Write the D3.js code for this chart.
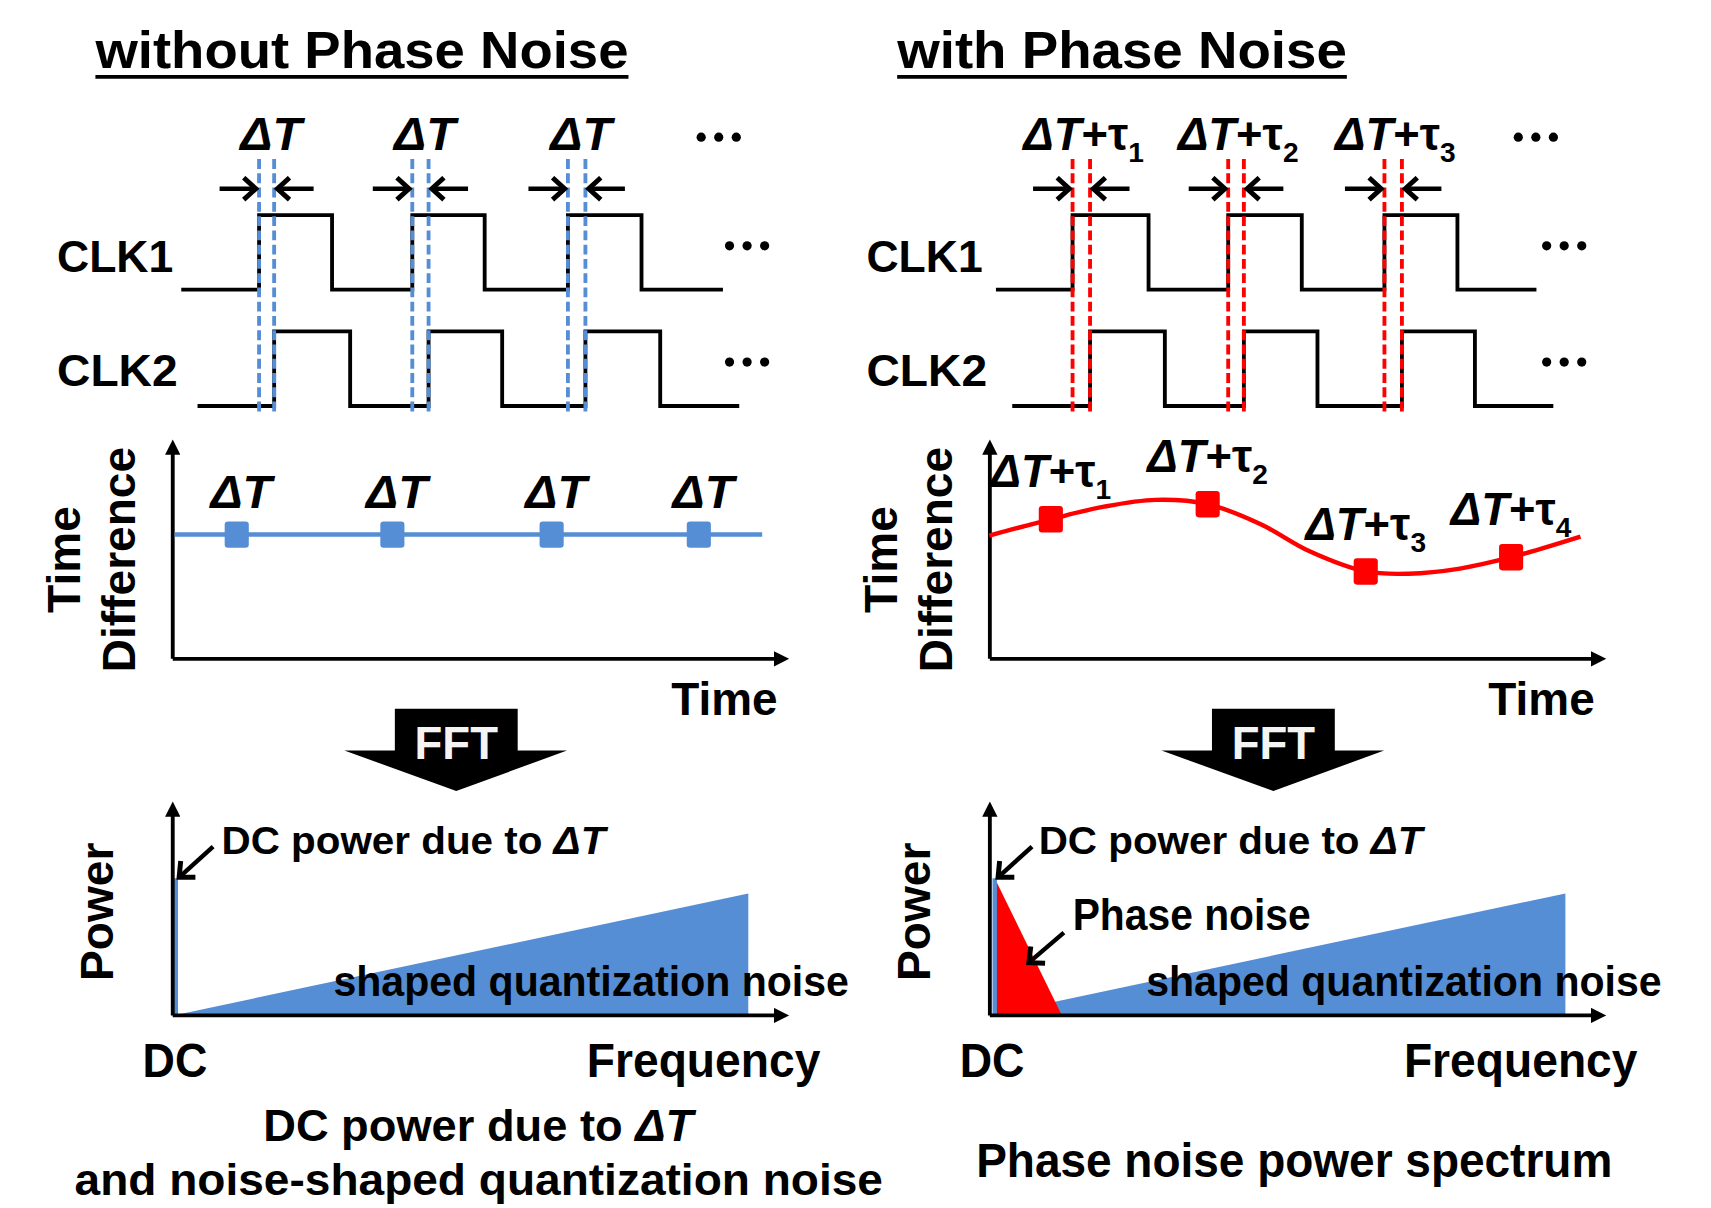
<!DOCTYPE html>
<html lang="en">
<head>
<meta charset="UTF-8" />
<title>Phase noise vs. time difference</title>
<script src="https://d3js.org/d3.v7.min.js"></script>
<style>
    html, body { margin: 0; padding: 0; background: #fff; }
    svg { display: block; }
    text {
        font-family: "Liberation Sans Narrow", "Arial Narrow", "Liberation Sans", Arial, sans-serif;
        font-weight: bold;
        fill: #000;
    }
    text.wide { font-family: "Liberation Sans", Arial, sans-serif; }
</style>
</head>
<body>
<svg id="chart" width="1711" height="1208" viewBox="0 0 1560 1101" preserveAspectRatio="none"></svg>
<script>
// ---- data, time in 0..100 units across each panel ----
const clockNames = ["CLK1", "CLK2"];
// start, rise, fall, rise, fall, rise, fall, end
const leftClk1 = [1.5, 14.4, 26.5, 39.8, 51.8, 65.6, 77.8, 91.3];
const leftClk2 = [4.2, 16.9, 29.5, 42.5, 54.7, 68.5, 80.9, 94.0];
const rightClk1 = [1.1, 13.8, 26.4, 39.6, 51.8, 65.5, 77.6, 90.7];
const rightClk2 = [3.8, 16.7, 29.1, 42.2, 54.4, 68.4, 80.5, 93.5];
const edgeSubs = ["1", "2", "3"];
const diffSubs = ["1", "2", "3", "4"];

const leftDiffT = [10.7, 36.5, 62.9, 87.3];
const leftDiffV = [60, 60, 60, 60];
const leftDiffLine = [[0.4, 60], [97.8, 60]];

const rightDiffT = [10.2, 36.2, 62.4, 86.5];
const rightDiffV = [67.4, 74.7, 42.1, 49.0];
const rightCurve = [[0, 59.5], [10.2, 67.4], [19, 73.5], [27.6, 76.8], [36.2, 74.7], [45, 65],
    [53, 52], [62.4, 42.1], [69.5, 41], [78, 43.5], [86.5, 49], [98, 59]];

const leftSpike = [0.6, 68];
const rightSpike = [0.9, 68];
const quantNoise = [[0.6, 0], [95.5, 60.5]];
const phaseNoise = [[0.9, 68], [12, 0]];

const BLUE = "#558ed5", RED = "#ff0000";

const svg = d3.select("#chart");
const defs = svg.append("defs");
defs.append("marker").attr("id", "axisHead")
    .attr("markerUnits", "userSpaceOnUse").attr("markerWidth", 16).attr("markerHeight", 14)
    .attr("refX", 2).attr("refY", 7).attr("orient", "auto")
    .append("path").attr("d", "M0,0 L14,7 L0,14 Z").attr("fill", "#000");
defs.append("marker").attr("id", "openHead")
    .attr("markerUnits", "userSpaceOnUse").attr("markerWidth", 22).attr("markerHeight", 24)
    .attr("refX", 14).attr("refY", 12).attr("orient", "auto")
    .append("path").attr("d", "M3,2 L14,12 L3,22").attr("fill", "none")
    .attr("stroke", "#000").attr("stroke-width", 4.5);

function label(parent, x, y, parts, o) {
    const t = parent.append("text").attr("x", x).attr("y", y)
        .attr("font-size", o.size).attr("text-anchor", o.anchor || "start");
    if (o.len) t.attr("textLength", o.len).attr("lengthAdjust", "spacingAndGlyphs");
    if (o.cls) t.attr("class", o.cls);
    if (o.fill) t.style("fill", o.fill);
    if (o.rotate) t.attr("transform", `rotate(-90 ${x} ${y})`);
    (typeof parts === "string" ? [{ t: parts }] : parts).forEach((p) => {
        const s = t.append("tspan").text(p.t);
        if (p.it) s.attr("font-style", "italic");
        if (p.sub) s.attr("font-size", o.size * 0.62).attr("dy", o.size * 0.26);
    });
    return t;
}

const dT = [{ t: "ΔT", it: true }];
const dTtau = (n) => [{ t: "ΔT", it: true }, { t: "+τ" }, { t: n, sub: true }];

function arrow(g, x1, y1, x2, y2) {
    g.append("line").attr("x1", x1).attr("y1", y1).attr("x2", x2).attr("y2", y2)
        .attr("stroke", "#000").attr("stroke-width", 4).attr("marker-end", "url(#openHead)");
}

function dots(g, cx, cy) {
    g.selectAll(null).data([-16, 0, 16]).enter().append("circle")
        .attr("cx", (d) => cx + d).attr("cy", cy).attr("r", 4.2).attr("fill", "#000");
}

function axes(g, x, y) {
    const ax = g.append("g").attr("transform", `translate(0,${y(0)})`)
        .call(d3.axisBottom(x).tickValues([]).tickSizeOuter(0));
    const ay = g.append("g").attr("transform", `translate(${x(0)},0)`)
        .call(d3.axisLeft(y).tickValues([]).tickSizeOuter(0));
    [ax, ay].forEach((a) => a.select(".domain").attr("stroke", "#000")
        .attr("stroke-width", 3.5).attr("marker-end", "url(#axisHead)"));
}

function panel(o) {
    const g = svg.append("g");
    const x = d3.scaleLinear().domain([0, 100]).range([o.x0, o.x0 + 550]);

    // title
    label(g, o.titleX, 62, o.title, { size: 48, len: o.titleLen });
    g.append("line").attr("x1", o.titleX).attr("x2", o.titleX + o.titleLen)
        .attr("y1", 70).attr("y2", 70).attr("stroke", "#000").attr("stroke-width", 3.5);

    // clock waveforms
    const row = d3.scaleBand().domain(clockNames).range([184, 396]);
    const lvl = d3.scaleLinear().domain([0, 1]).range([80, 12]);
    const step = d3.line().curve(d3.curveStepAfter);
    [o.clk1, o.clk2].forEach((edges, k) => {
        const name = clockNames[k];
        const pts = edges.map((e, i) => [x(e), row(name) + lvl(i > 0 && i < edges.length - 1 && i % 2 === 1 ? 1 : 0)]);
        g.append("path").attr("d", step(pts)).attr("fill", "none")
            .attr("stroke", "#000").attr("stroke-width", 3.5);
        label(g, o.nameX, row(name) + (k === 0 ? 64 : 62), name, { size: 41, len: k === 0 ? 106 : 110 });
        dots(g, x(95.3), row(name) + 40);
    });
    dots(g, x(90.6), 125);

    [1, 3, 5].forEach((i, j) => {
        const a = x(o.clk1[i]), b = x(o.clk2[i]);
        [a, b].forEach((xx) => g.append("line").attr("x1", xx).attr("x2", xx)
            .attr("y1", 145).attr("y2", 376).attr("stroke", o.color)
            .attr("stroke-width", 3.5).attr("stroke-dasharray", "9,4"));
        arrow(g, a - 36, 172, a - 3, 172);
        arrow(g, b + 36, 172, b + 3, 172);
        if (o.noisy) label(g, (a + b) / 2 + 2, 137, dTtau(edgeSubs[j]), { size: 42, len: 110, anchor: "middle" });
        else label(g, (a + b) / 2 + 4, 137, dT, { size: 42, len: 56, anchor: "middle" });
    });

    // time difference plot
    const y = d3.scaleLinear().domain([0, 100]).range([600, 412]);
    axes(g, x, y);
    const line = d3.line().x((d) => x(d[0])).y((d) => y(d[1]));
    if (o.noisy) line.curve(d3.curveCatmullRom.alpha(0.5));
    g.append("path").attr("d", line(o.diffLine)).attr("fill", "none")
        .attr("stroke", o.color).attr("stroke-width", 4);
    g.selectAll(null).data(o.diffT).enter().append("rect")
        .attr("x", (d) => x(d) - 11).attr("y", (d, i) => y(o.diffV[i]) - 12)
        .attr("width", 22).attr("height", 24).attr("rx", 3).attr("fill", o.color);
    o.diffT.forEach((t, i) => {
        if (o.noisy) label(g, x(t), y(o.diffV[i]) - 29, dTtau(diffSubs[i]), { size: 42, len: 110, anchor: "middle" });
        else label(g, x(t) + 4, y(o.diffV[i]) - 24, dT, { size: 42, len: 56, anchor: "middle" });
    });
    label(g, x(100) + 2, 652, "Time", { size: 42, len: 97, anchor: "end" });
    label(g, x(0) - 84, 510, "Time", { size: 42, cls: "wide", anchor: "middle", rotate: true });
    label(g, x(0) - 34, 510, "Difference", { size: 42, cls: "wide", anchor: "middle", rotate: true });

    // FFT arrow
    const cx = x(0) + 259;
    const p = d3.path();
    p.moveTo(cx - 56, 646); p.lineTo(cx + 56, 646); p.lineTo(cx + 56, 684);
    p.lineTo(cx + 101, 684); p.lineTo(cx, 721); p.lineTo(cx - 102, 684);
    p.lineTo(cx - 56, 684); p.closePath();
    g.append("path").attr("d", p.toString()).attr("fill", "#000");
    label(g, cx, 692, "FFT", { size: 42, len: 76, anchor: "middle", fill: "#f4f4f4" });

    // spectrum
    const ys = d3.scaleLinear().domain([0, 100]).range([925, 742]);
    const area = d3.area().x((d) => x(d[0])).y0(ys(0)).y1((d) => ys(d[1]));
    g.append("path").attr("d", area(quantNoise)).attr("fill", BLUE);
    if (o.noisy) g.append("path").attr("d", area(phaseNoise)).attr("fill", RED);
    g.append("line").attr("x1", x(o.spike[0])).attr("x2", x(o.spike[0]))
        .attr("y1", ys(0)).attr("y2", ys(o.spike[1])).attr("stroke", BLUE).attr("stroke-width", 4);
    axes(g, x, ys);
    arrow(g, x(o.spike[0]) + 34, ys(o.spike[1]) - 29, x(o.spike[0]) + 3, ys(o.spike[1]) - 1);
    label(g, x(0) + 45, 778, [{ t: "DC power due to " }, { t: "ΔT", it: true }], { size: 36, len: 350 });
    if (o.noisy) {
        label(g, x(0) + 76, 848, "Phase noise", { size: 40, len: 217 });
        arrow(g, x(0) + 68, ys(41), x(0) + 36, ys(26));
    }
    label(g, o.shapedX, 908, "shaped quantization noise", { size: 38, len: 470 });
    label(g, x(0) - 27, 982, "DC", { size: 44, len: 59 });
    label(g, x(0) + 378, 982, "Frequency", { size: 44, len: 213 });
    label(g, x(0) - 54, 831, "Power", { size: 42, cls: "wide", anchor: "middle", rotate: true });

    o.caption(g, x);
}

panel({
    x0: 157, title: "without Phase Noise", titleX: 87, titleLen: 486, nameX: 52,
    clk1: leftClk1, clk2: leftClk2, color: BLUE, noisy: false,
    diffT: leftDiffT, diffV: leftDiffV, diffLine: leftDiffLine,
    spike: leftSpike, shapedX: 304,
    caption: (g) => {
        label(g, 240, 1040, [{ t: "DC power due to " }, { t: "ΔT", it: true }], { size: 40, len: 392 });
        label(g, 68, 1089, "and noise-shaped quantization noise", { size: 40, len: 737 });
    }
});

panel({
    x0: 902, title: "with Phase Noise", titleX: 818, titleLen: 410, nameX: 790,
    clk1: rightClk1, clk2: rightClk2, color: RED, noisy: true,
    diffT: rightDiffT, diffV: rightDiffV, diffLine: rightCurve,
    spike: rightSpike, shapedX: 1045,
    caption: (g) => {
        label(g, 890, 1073, "Phase noise power spectrum", { size: 44, len: 580 });
    }
});
</script>
</body>
</html>
